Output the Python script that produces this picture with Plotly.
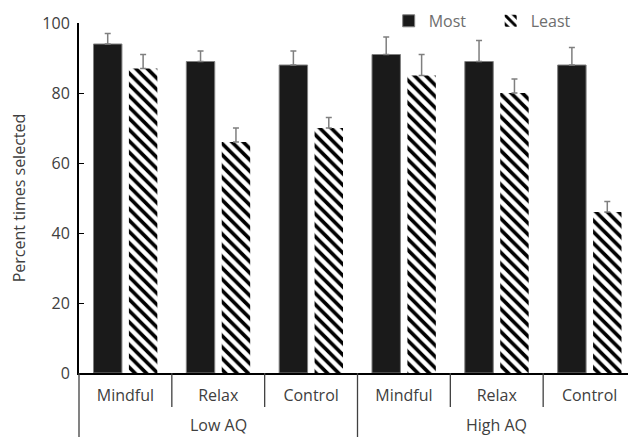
import plotly.graph_objects as go

groups = ["Low AQ", "Low AQ", "Low AQ", "High AQ", "High AQ", "High AQ"]
conditions = ["Mindful", "Relax", "Control", "Mindful", "Relax", "Control"]
most = [94, 89, 88, 91, 89, 88]
most_err = [3, 3, 4, 5, 6, 5]
least = [87, 66, 70, 85, 80, 46]
least_err = [4, 4, 3, 6, 4, 3]
y_ticks = [0, 20, 40, 60, 80, 100]

pos = list(range(len(conditions)))

fig = go.Figure()
fig.add_trace(go.Bar(
    name="Most", x=pos, y=most,
    marker=dict(color="#1a1a1a", line=dict(color="#808080", width=1)),
    error_y=dict(type="data", symmetric=False, array=most_err,
                 arrayminus=[0] * len(most), color="#7f7f7f", thickness=1.5, width=3),
))
fig.add_trace(go.Bar(
    name="Least", x=pos, y=least,
    marker=dict(color="white", line=dict(color="white", width=0),
                pattern=dict(shape="\\", fgcolor="black", bgcolor="white",
                             size=8, solidity=0.45, fillmode="replace")),
    error_y=dict(type="data", symmetric=False, array=least_err,
                 arrayminus=[0] * len(least), color="#7f7f7f", thickness=1.5, width=3),
))

n = len(conditions)
shapes = []
for k in range(n):
    is_group_start = k == 0 or groups[k] != groups[k - 1]
    shapes.append(dict(type="line", xref="paper", yref="paper",
                       x0=k / n, x1=k / n, y0=0, y1=-0.2 if is_group_start else -0.097,
                       line=dict(color="#404040", width=1.3)))

annotations = []
seen = []
for g in groups:
    if g not in seen:
        seen.append(g)
for g in seen:
    idx = [i for i, gg in enumerate(groups) if gg == g]
    annotations.append(dict(text=g, x=sum(idx) / len(idx), xref="x", y=-0.148, yref="paper",
                            showarrow=False, font=dict(size=16, color="#404040"),
                            xanchor="center", yanchor="middle"))

fig.update_layout(
    width=628, height=429,
    margin=dict(l=71, r=0, t=15, b=64, autoexpand=False),
    paper_bgcolor="white", plot_bgcolor="white",
    barmode="group", bargap=0.237, bargroupgap=0.197,
    font=dict(family="Open Sans, sans-serif", size=16, color="#404040"),
    showlegend=True,
    legend=dict(orientation="h", x=0.556, xanchor="left", y=1.006, yanchor="middle",
                itemwidth=30, entrywidth=57, entrywidthmode="pixels",
                font=dict(size=16, color="#6e6e6e"), bgcolor="rgba(0,0,0,0)"),
    shapes=shapes, annotations=annotations,
)
fig.update_yaxes(range=[0, 100], tickvals=y_ticks, ticks="inside", ticklen=5,
                 tickcolor="black", showline=True, linecolor="black", linewidth=2,
                 showgrid=False, zeroline=False, tickfont=dict(size=16, color="#404040"),
                 ticklabelstandoff=4,
                 title=dict(text="Percent times selected", standoff=18,
                            font=dict(size=16, color="#404040")))
fig.update_xaxes(range=[-0.5, n - 0.5], tickvals=pos, ticktext=conditions,
                 showline=True, linecolor="black", linewidth=2, ticks="",
                 ticklabelstandoff=7,
                 showgrid=False, zeroline=False, tickfont=dict(size=16, color="#404040"))

fig.write_html("out.html")
